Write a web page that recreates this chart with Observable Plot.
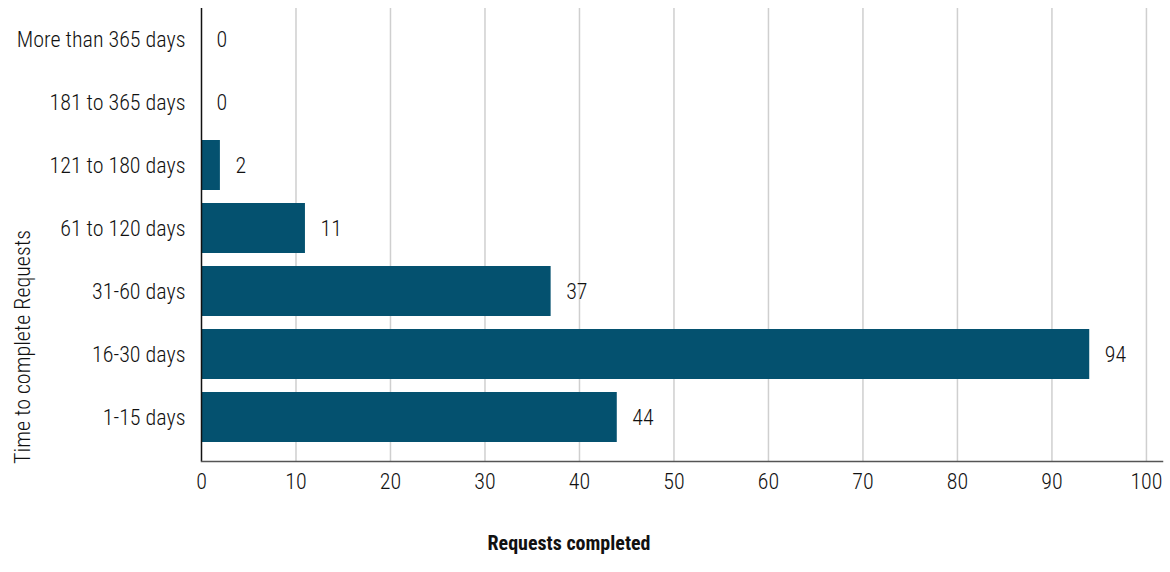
<!DOCTYPE html>
<html>
<head>
<meta charset="utf-8">
<script src="https://cdn.jsdelivr.net/npm/d3@7"></script>
<script src="https://cdn.jsdelivr.net/npm/@observablehq/plot@0.6"></script>
<style>
  html, body { margin: 0; padding: 0; background: #fff; }
  #chart svg { display: block; }
  #chart svg text { font-stretch: 75%; }
</style>
</head>
<body>
<div id="chart"></div>
<script>
const categories = ["More than 365 days", "181 to 365 days", "121 to 180 days", "61 to 120 days", "31-60 days", "16-30 days", "1-15 days"];
const values = [0, 0, 2, 11, 37, 94, 44];
const xTicks = [0, 10, 20, 30, 40, 50, 60, 70, 80, 90, 100];
const xLabel = "Requests completed";
const yLabel = "Time to complete Requests";

const data = categories.map((c, i) => ({category: c, value: values[i]}));
const FONT = "Roboto, sans-serif";

const chart = Plot.plot({
  width: 1170,
  height: 572,
  marginLeft: 201,
  marginRight: 8,
  marginTop: 8,
  marginBottom: 111,
  style: {fontSize: "22px", fontFamily: FONT, fontWeight: 300, color: "#111", background: "#fff"},
  x: {domain: [0, 101.7], ticks: xTicks, label: null},
  y: {domain: categories, paddingInner: 0.206, paddingOuter: 0.198, align: 0.26, label: null},
  marks: [
    Plot.gridX(xTicks.filter(d => d > 0), {stroke: "#cfcfcf", strokeOpacity: 1, strokeWidth: 1.5}),
    Plot.barX(data, {x: "value", y: "category", fill: "#04516f"}),
    Plot.ruleX([0], {stroke: "#111", strokeWidth: 1.5}),
    Plot.frame({anchor: "bottom", stroke: "#555", strokeWidth: 1.5}),
    Plot.axisX({ticks: xTicks, tickSize: 0, tickPadding: 12, fontSize: "22px", fontWeight: 300, label: null}),
    Plot.axisY({tickSize: 0, tickPadding: 16, fontSize: "22px", fontWeight: 300, label: null}),
    Plot.text(data, {x: "value", y: "category", text: d => String(d.value), textAnchor: "start", dx: 15, fontSize: "22px", fontWeight: 300, fill: "#111"}),
    Plot.text([xLabel], {frameAnchor: "bottom", lineAnchor: "middle", textAnchor: "middle", dx: -113, dy: 82, text: d => d, fontSize: "20px", fontWeight: "bold", fill: "#111"}),
    Plot.text([yLabel], {frameAnchor: "left", lineAnchor: "middle", textAnchor: "middle", dx: -179, dy: 112, rotate: -90, text: d => d, fontSize: "22px", fontWeight: 300, fill: "#111"})
  ]
});
document.getElementById("chart").appendChild(chart);
</script>
</body>
</html>
